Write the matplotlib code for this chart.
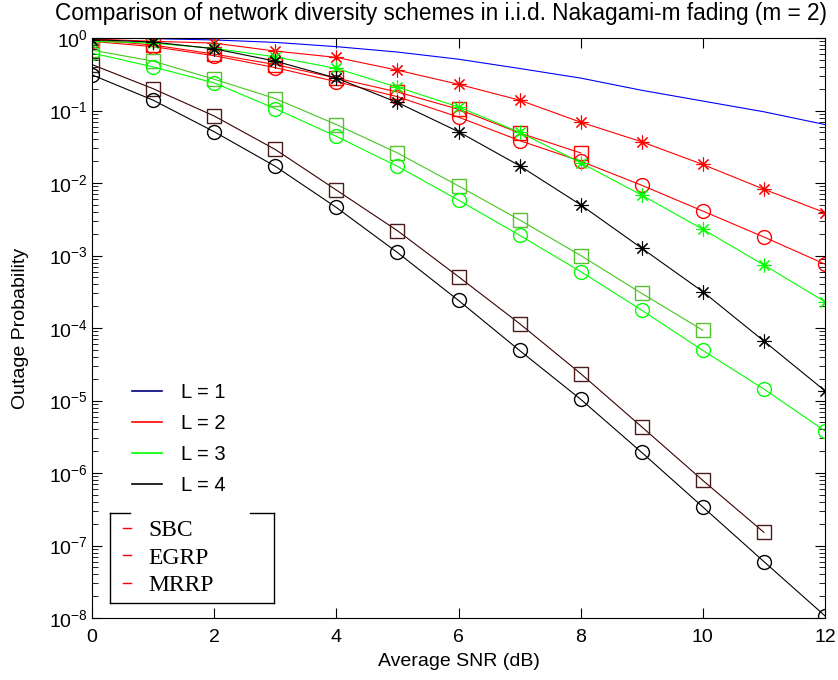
import matplotlib
matplotlib.use('Agg')
import matplotlib.pyplot as plt
from matplotlib.lines import Line2D
import numpy as np

plt.rcParams['font.family'] = ['Liberation Sans', 'DejaVu Sans']

# ── 数据 ──
snr = np.arange(0, 13)
snr_l2_egrp = np.arange(0, 9)
snr_l3_egrp = np.arange(0, 11)
snr_l4_egrp = np.arange(0, 12)

p_l1 = [1.0, 0.98, 0.94, 0.87, 0.76, 0.64, 0.51, 0.38, 0.28, 0.19, 0.135, 0.096, 0.064]

p_l2_sbc = [0.97, 0.90, 0.85, 0.66, 0.54, 0.36, 0.23, 0.139, 0.069, 0.037, 0.018, 0.0082, 0.0039]
p_l2_egrp = [0.95, 0.80, 0.60, 0.43, 0.28, 0.18, 0.104, 0.049, 0.026]
p_l2_mrrp = [0.90, 0.76, 0.57, 0.39, 0.25, 0.155, 0.081, 0.0385, 0.020, 0.0093, 0.0041, 0.0018, 0.00076]

p_l3_sbc = [0.90, 0.85, 0.72, 0.55, 0.38, 0.21, 0.112, 0.050, 0.019, 0.0068, 0.0023, 0.00074, 0.00023]
p_l3_egrp = [0.68, 0.48, 0.27, 0.146, 0.064, 0.026, 0.0091, 0.0031, 0.0010, 0.0003, 9.3e-5]
p_l3_mrrp = [0.62, 0.40, 0.24, 0.106, 0.044, 0.017, 0.0058, 0.0019, 0.0006, 0.000176, 4.9e-5, 1.44e-5, 3.8e-6]

p_l4_sbc = [0.95, 0.88, 0.71, 0.48, 0.28, 0.129, 0.051, 0.0173, 0.0050, 0.00126, 0.000317, 6.6e-5, 1.36e-5]
p_l4_egrp = [0.43, 0.20, 0.084, 0.029, 0.0080, 0.0022, 0.00051, 0.000115, 2.35e-5, 4.33e-6, 7.9e-7, 1.52e-7]
p_l4_mrrp = [0.31, 0.139, 0.051, 0.017, 0.0046, 0.0011, 0.00024, 4.9e-5, 1.04e-5, 1.92e-6, 3.4e-7, 6.0e-8, 1.07e-8]

legend_l = ['L = 1', 'L = 2', 'L = 3', 'L = 4']
legend_scheme = ['SBC', 'EGRP', 'MRRP']
title = 'Comparison of network diversity schemes in i.i.d. Nakagami-m fading (m = 2)'

RED, GREEN, BLUE = '#ff0000', '#00ff00', '#0000ff'
STAR = (8, 2, 0)
ms = 10
lw = 0.8

fig = plt.figure(figsize=(8.38, 6.8), dpi=100)
ax = fig.add_axes([92 / 838, 1 - 618 / 680, 733 / 838, 580 / 680])

ax.semilogy(snr, p_l1, color=BLUE, lw=lw)

# L = 2
ax.semilogy(snr, p_l2_sbc, color=RED, lw=lw, marker=STAR, ms=ms, mfc='none', mew=0.8)
ax.semilogy(snr_l2_egrp, p_l2_egrp, color=RED, lw=lw, marker='s', ms=ms, mfc='none')
ax.semilogy(snr, p_l2_mrrp, color=RED, lw=lw, marker='o', ms=ms, mfc='none')

# L = 3
ax.semilogy(snr, p_l3_sbc, color=GREEN, lw=lw, marker=STAR, ms=ms, mfc='none', mew=0.8)
ax.semilogy(snr_l3_egrp, p_l3_egrp, color='#44c81e', lw=lw, marker='s', ms=ms, mfc='none', mec='#55c030')
ax.semilogy(snr, p_l3_mrrp, color=GREEN, lw=lw, marker='o', ms=ms, mfc='none')

# L = 4
ax.semilogy(snr, p_l4_sbc, color='k', lw=lw, marker=STAR, ms=ms, mfc='none', mew=0.8)
ax.semilogy(snr_l4_egrp, p_l4_egrp, color='#3a0000', lw=lw, marker='s', ms=ms, mfc='none', mec='#4a1c1c')
ax.semilogy(snr, p_l4_mrrp, color='k', lw=lw, marker='o', ms=ms, mfc='none')

ax.set_xlim(0, 12)
ax.set_ylim(1e-8, 1)
ax.set_xticks(np.arange(0, 13, 2))
ax.tick_params(which='both', direction='in', top=True, right=True, labelsize=14)
ax.tick_params(which='major', length=7)
ax.tick_params(which='minor', length=4)
ax.tick_params(axis='x', pad=8)
ax.tick_params(axis='y', pad=3)
ax.set_xlabel('Average SNR (dB)', fontsize=14, labelpad=5)
ax.set_ylabel('Outage Probability', fontsize=14, labelpad=14)
fig.text(441 / 838, 1 - 20 / 680, title, fontsize=16.3, ha='center', va='baseline')

# ── 图例 1：分集阶数 ──
h1 = [Line2D([], [], color=c, lw=1.2) for c in ['#000080', RED, GREEN, 'k']]
leg1 = fig.legend(h1, legend_l, loc='upper left', bbox_to_anchor=(132 / 838, 1 - 383 / 680),
                  frameon=False, fontsize=14.5, handlelength=1.5, handletextpad=0.95,
                  labelspacing=0.6, borderpad=0, borderaxespad=0)

# ── 图例 2：方案 ──
h2 = [Line2D([], [], color=RED, lw=1) for _ in legend_scheme]
leg2 = fig.legend(h2, legend_scheme, loc='upper left', bbox_to_anchor=(119 / 838, 1 - 516 / 680),
                  frameon=False, prop={'family': 'Liberation Serif', 'size': 17},
                  handlelength=0.35, handletextpad=0.75, labelspacing=0.25, borderpad=0.15,
                  borderaxespad=0)

# 图例框（顶部有缺口）
x0, x1, y0, y1 = 110 / 838, 274 / 838, 1 - 603 / 680, 1 - 513 / 680
for xs, ys in [([x0, x0], [y0, y1]), ([x1, x1], [y0, y1]), ([x0, x1], [y0, y0]),
               ([x0, 130 / 838], [y1, y1]), ([250 / 838, x1], [y1, y1])]:
    fig.add_artist(Line2D(xs, ys, color='k', lw=1))

plt.savefig('out.png', dpi=100)
plt.close()
